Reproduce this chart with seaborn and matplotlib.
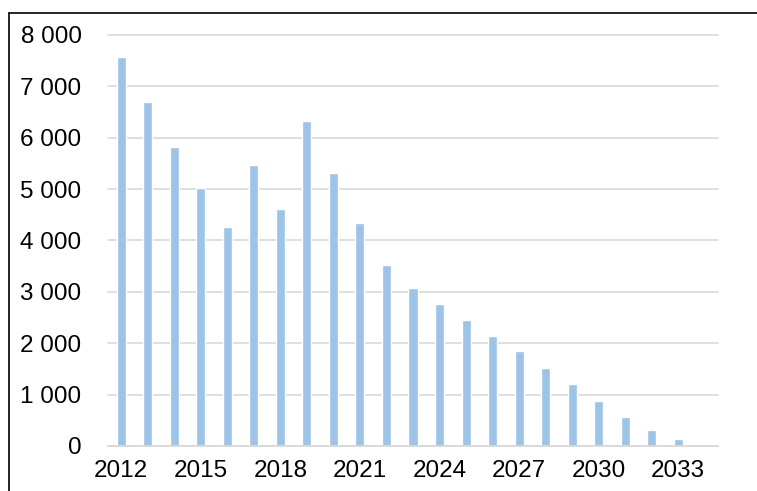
import matplotlib
matplotlib.use("Agg")
import matplotlib.pyplot as plt
import seaborn as sns
import pandas as pd
from matplotlib.lines import Line2D

# 数据
years = [str(y) for y in range(2012, 2034)]
values = [7580, 6690, 5820, 5030, 4270, 5470, 4620, 6330, 5310, 4340,
          3530, 3070, 2770, 2460, 2150, 1840, 1520, 1210, 880, 570, 315, 135]
order = years + ["2034"]
tick_years = ["2012", "2015", "2018", "2021", "2024", "2027", "2030", "2033"]
y_ticks = [0, 1000, 2000, 3000, 4000, 5000, 6000, 7000, 8000]

df = pd.DataFrame({"year": years, "value": values})

sns.set_theme(style="white")
plt.rcParams['font.family'] = ['Liberation Sans', 'DejaVu Sans']

fig = plt.figure(figsize=(7.57, 4.91), dpi=100)
ax = fig.add_axes([108 / 757, 1 - 446 / 491, 610 / 757, 411 / 491])

sns.barplot(data=df, x="year", y="value", order=order, color="#9DC3E6",
            saturation=1, width=0.34, ax=ax)

ax.set_ylim(0, 8000)
ax.set_yticks(y_ticks)
ax.set_yticklabels([f"{v:,}".replace(",", " ") for v in y_ticks], fontsize=17.5)
ax.yaxis.grid(True, color="#D9D9D9", linewidth=1.2)
ax.set_axisbelow(True)
for gl in ax.get_ygridlines():
    gl.set_clip_on(False)

pos = [order.index(t) for t in tick_years]
ax.set_xticks(pos)
ax.set_xticklabels(tick_years, fontsize=17.5)
ax.set_xlim(-0.5, len(order) - 0.5)

ax.tick_params(axis="y", length=0, pad=19)
ax.tick_params(axis="x", length=0, pad=10)
for t in ax.get_yticklabels():
    t.set_color("black")
for t in ax.get_xticklabels():
    t.set_color("black")

ax.set_xlabel("")
ax.set_ylabel("")
for s in ["top", "right", "left"]:
    ax.spines[s].set_visible(False)
ax.spines["bottom"].set_color("#D9D9D9")
ax.spines["bottom"].set_linewidth(1.2)

# 外框线（左、上）
fig.add_artist(Line2D([9 / 757, 9 / 757], [0, 1 - 13 / 491], color="black", linewidth=1.2))
fig.add_artist(Line2D([9 / 757, 1], [1 - 13 / 491, 1 - 13 / 491], color="black", linewidth=1.2))

fig.savefig("out.png", dpi=100)
